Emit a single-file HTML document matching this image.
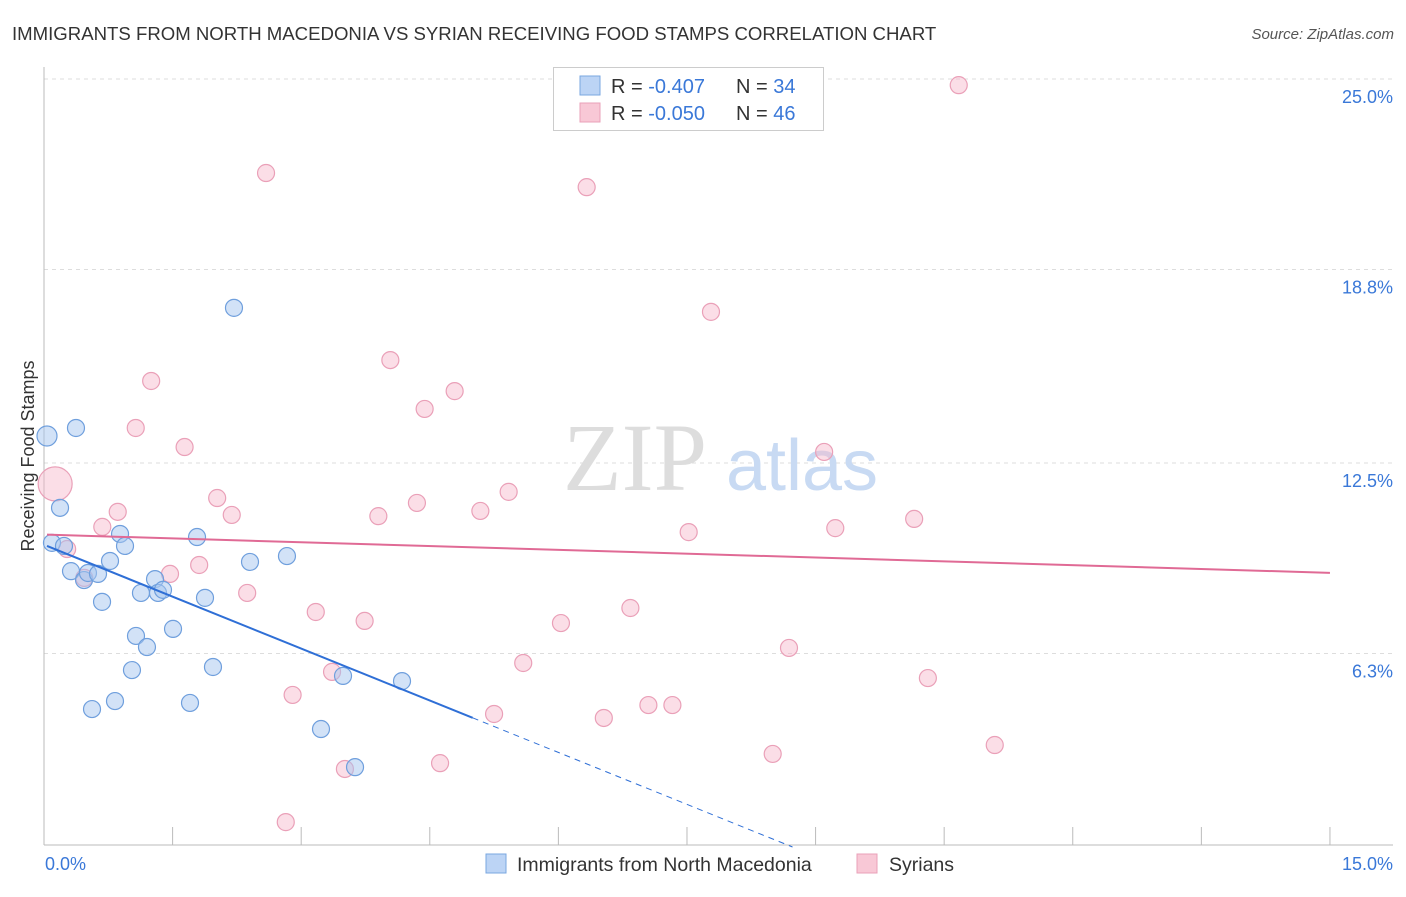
<!DOCTYPE html>
<html><head><meta charset="utf-8"><style>
body{margin:0;background:#fff;font-family:"Liberation Sans",sans-serif;}
svg text{font-family:"Liberation Sans",sans-serif;}
</style></head><body>
<svg id="chart" width="1406" height="892" xmlns="http://www.w3.org/2000/svg">
<text x="12" y="40" font-size="18.6" fill="#333">IMMIGRANTS FROM NORTH MACEDONIA VS SYRIAN RECEIVING FOOD STAMPS CORRELATION CHART</text>
<text x="1394" y="39" font-size="15" fill="#555" text-anchor="end" font-style="italic">Source: ZipAtlas.com</text>
<g id="grid"></g>
<g>
<text x="635" y="490" font-size="96" fill="#ddd" text-anchor="middle" style="font-family:'Liberation Serif',serif">ZIP</text>
<text x="802" y="490" font-size="72" fill="#c8daf3" text-anchor="middle">atlas</text>
</g>
<g id="axes"></g>
<g id="marks"></g>
<text transform="translate(34,456) rotate(-90)" font-size="18" fill="#333" text-anchor="middle">Receiving Food Stamps</text>
<g>
<rect x="553.5" y="67.5" width="270" height="63" fill="#fff" stroke="#ccc"/>
<rect x="580" y="76" width="20" height="19" fill="#bcd4f5" stroke="#7aa7e0"/>
<rect x="580" y="103" width="20" height="19" fill="#f8c8d6" stroke="#eaa0b8"/>
<text x="611" y="93" font-size="20" fill="#333">R = <tspan fill="#3a78d8">-0.407</tspan></text>
<text x="736" y="93" font-size="20" fill="#333">N = <tspan fill="#3a78d8">34</tspan></text>
<text x="611" y="120" font-size="20" fill="#333">R = <tspan fill="#3a78d8">-0.050</tspan></text>
<text x="736" y="120" font-size="20" fill="#333">N = <tspan fill="#3a78d8">46</tspan></text>
</g>
<g>
<rect x="486" y="854" width="20" height="19" fill="#bcd4f5" stroke="#7aa7e0"/>
<text x="517" y="871" font-size="19.5" fill="#333">Immigrants from North Macedonia</text>
<rect x="857" y="854" width="20" height="19" fill="#f8c8d6" stroke="#eaa0b8"/>
<text x="889" y="871" font-size="19.5" fill="#333">Syrians</text>
</g>
</svg>
<script>
const blueX=[0.035,0.373,0.187,0.093,0.233,0.315,0.467,0.513,0.63,0.77,0.677,0.887,0.945,1.295,1.131,1.33,1.388,1.073,1.201,1.505,1.878,1.785,1.026,0.828,0.56,1.703,1.971,2.403,2.834,2.216,3.488,4.176,3.231,3.628];
const blueY=[13.38,13.64,11.04,9.90,9.80,8.98,8.69,8.92,8.89,9.31,7.98,10.19,9.80,8.72,8.27,8.27,8.37,6.87,6.51,7.10,8.11,10.09,5.76,4.75,4.49,4.69,5.86,9.28,9.47,17.55,5.57,5.40,3.84,2.60];
const pinkX=[0.13,0.27,0.47,0.68,0.86,1.25,1.07,1.64,1.47,1.81,2.02,2.19,2.37,2.59,2.82,2.90,3.17,3.36,3.51,3.74,3.90,4.04,4.35,4.44,4.62,4.79,5.09,5.25,5.42,5.59,6.03,6.33,6.53,6.84,7.05,7.33,7.52,7.78,8.50,8.69,9.10,9.23,10.15,10.31,10.67,11.09];
const pinkY=[11.82,9.70,8.76,10.42,10.91,15.17,13.64,13.02,8.89,9.18,11.36,10.81,8.27,21.94,0.81,4.95,7.65,5.70,2.54,7.36,10.77,15.85,11.20,14.26,2.73,14.84,10.94,4.33,11.56,5.99,7.29,21.48,4.20,7.78,4.62,4.62,10.25,17.42,3.03,6.48,12.86,10.38,10.68,5.50,24.80,3.32];
const yTicks=[6.3,12.5,18.8,25.0];
const yTickLabels=["6.3%","12.5%","18.8%","25.0%"];
const xTicks=[0,1.5,3,4.5,6,7.5,9,10.5,12,13.5,15];
const blueTrend=[9.84,-1.127];
const pinkTrend=[10.17,-0.083];
const NS="http://www.w3.org/2000/svg";
const sx=v=>44+v*85.73, sy=v=>847-v*30.72;
function mk(tag,attrs,parent){const e=document.createElementNS(NS,tag);for(const k in attrs)e.setAttribute(k,attrs[k]);document.getElementById(parent).appendChild(e);return e;}
yTicks.forEach((t,i)=>{
 const g=mk('line',{x1:44,x2:1393,y1:sy(t),y2:sy(t),stroke:'#ddd','stroke-dasharray':'4,4'},'grid');
 
 
 const l=mk('text',{x:1393,y:sy(t)+24,'font-size':18,fill:'#3a78d8','text-anchor':'end'},'axes');
 l.textContent=yTickLabels[i];
 
 
});
let a=mk('line',{x1:44,x2:44,y1:67,y2:845,stroke:'#bbb'},'axes');


a=mk('line',{x1:44,x2:1393,y1:845,y2:845,stroke:'#bbb'},'axes');


xTicks.forEach(t=>{
 const tk=mk('line',{x1:sx(t),x2:sx(t),y1:827,y2:845,stroke:'#bbb'},'axes');
 
 
});
let xl=mk('text',{x:45,y:870,'font-size':18,fill:'#3a78d8'},'axes');xl.textContent='0.0%';


xl=mk('text',{x:1393,y:870,'font-size':18,fill:'#3a78d8','text-anchor':'end'},'axes');xl.textContent='15.0%';


pinkX.forEach((x,i)=>{
 const c=mk('circle',{cx:sx(x),cy:sy(pinkY[i]),r:i===0?17:8.5,fill:'rgba(246,182,202,0.45)',stroke:'#eaa0b8','stroke-width':1.2},'marks');
 
 
});
blueX.forEach((x,i)=>{
 const c=mk('circle',{cx:sx(x),cy:sy(blueY[i]),r:i===0?10:8.5,fill:'rgba(166,198,240,0.5)',stroke:'#6f9fdd','stroke-width':1.2},'marks');
 
 
});
const bEnd=5.0, bZero=-blueTrend[0]/blueTrend[1];
let ln=mk('line',{x1:sx(0.035),y1:sy(blueTrend[0]+blueTrend[1]*0.035),x2:sx(bEnd),y2:sy(blueTrend[0]+blueTrend[1]*bEnd),stroke:'#2f6fd6','stroke-width':2},'marks');


ln=mk('line',{x1:sx(bEnd),y1:sy(blueTrend[0]+blueTrend[1]*bEnd),x2:sx(bZero),y2:sy(0),stroke:'#2f6fd6','stroke-width':1,'stroke-dasharray':'6,5'},'marks');


ln=mk('line',{x1:sx(0.035),y1:sy(pinkTrend[0]+pinkTrend[1]*0.035),x2:sx(15),y2:sy(pinkTrend[0]+pinkTrend[1]*15),stroke:'#e06a95','stroke-width':2},'marks');


</script>
</body></html>
